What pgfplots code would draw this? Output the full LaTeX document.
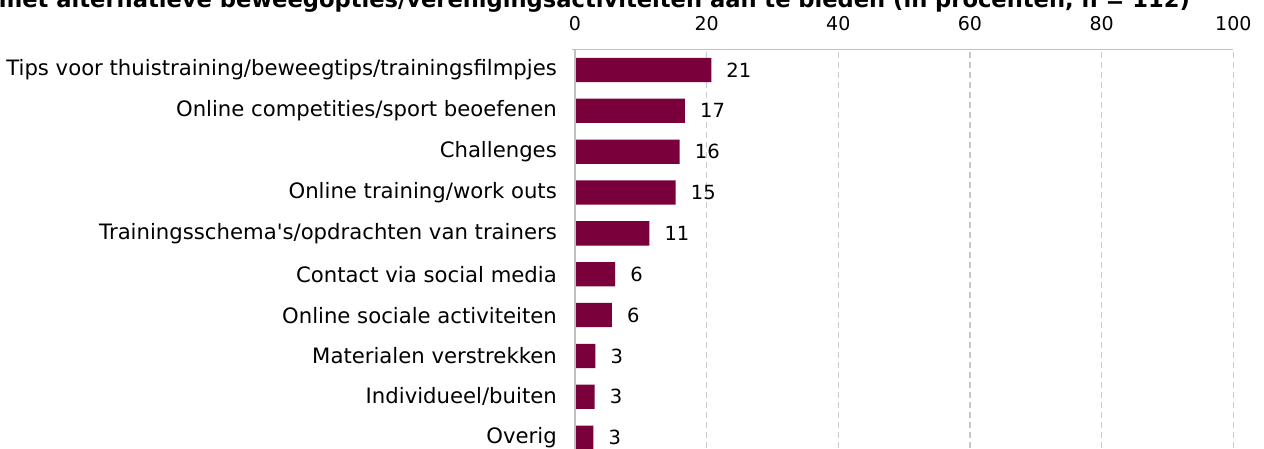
\documentclass[border=0pt]{standalone}
\usepackage{fontspec}
\setmainfont{DejaVu Sans}[Ligatures=TeXOff]
\usepackage{pgfplots}
\pgfplotsset{compat=1.18}
\definecolor{barc}{HTML}{7A003C}
\definecolor{gridc}{HTML}{C8C8C8}
\definecolor{axc}{HTML}{C0C0C0}
\pgfplotstableread{
y val
9 20.7
8 16.7
7 15.9
6 15.3
5 11.3
4 6.1
3 5.6
2 3.1
1 3.0
0 2.8
}\datatab
\begin{document}
\begin{tikzpicture}
\path[use as bounding box] (0pt,0pt) rectangle (1264pt,-448pt);
\node[anchor=base east, font=\fontsize{22.6}{25}\selectfont\bfseries, inner sep=0pt] at (1190pt,-7pt)
  {Figuur 4: Vereniging is gestart met alternatieve beweegopties/verenigingsactiviteiten aan te bieden (in procenten, n = 112)};
\begin{axis}[
  at={(575pt,-49.5pt)}, anchor=north west,
  scale only axis, width=658.3pt, height=408.6pt,
  xbar, bar width=24.3pt, bar shift=0pt,
  xmin=0, xmax=100, ymin=-0.5, ymax=9.5,
  xtick={0,20,40,60,80,100},
  xticklabel pos=upper,
  ytick={0,...,9},
  yticklabels={Overig,Individueel/buiten,Materialen verstrekken,Online sociale activiteiten,Contact via social media,Trainingsschema's/opdrachten van trainers,Online training/work outs,Challenges,Online competities/sport beoefenen,Tips voor thuistraining/beweegtips/trainingsfilmpjes},
  major tick length=0pt,
  axis line style={draw=none},
  xmajorgrids, ymajorgrids=false,
  grid style={gridc, line width=1.3pt, dash pattern=on 6pt off 4pt},
  /pgf/number format/assume math mode=true,
  xticklabel style={inner sep=0pt, anchor=south, yshift=18.5pt, font=\fontsize{19}{22}\selectfont},
  yticklabel style={inner sep=0pt, anchor=east, xshift=-18pt, font=\fontsize{21.2}{24}\selectfont},
  point meta=x,
  nodes near coords={\pgfmathprintnumber[fixed,precision=0]{\pgfplotspointmeta}},
  every node near coord/.append style={anchor=west, inner sep=0pt, xshift=15pt, font=\fontsize{19.5}{22}\selectfont, text=black},
  clip=false,
]
\addplot[fill=barc, draw=none] table[x=val, y=y] {\datatab};
\draw[axc, line width=2pt] (axis cs:0,9.5) -- (axis cs:0,-0.5);
\draw[axc, line width=1.5pt] (axis cs:-0.5,9.5) -- (axis cs:100,9.5);
\end{axis}
\end{tikzpicture}
\end{document}
